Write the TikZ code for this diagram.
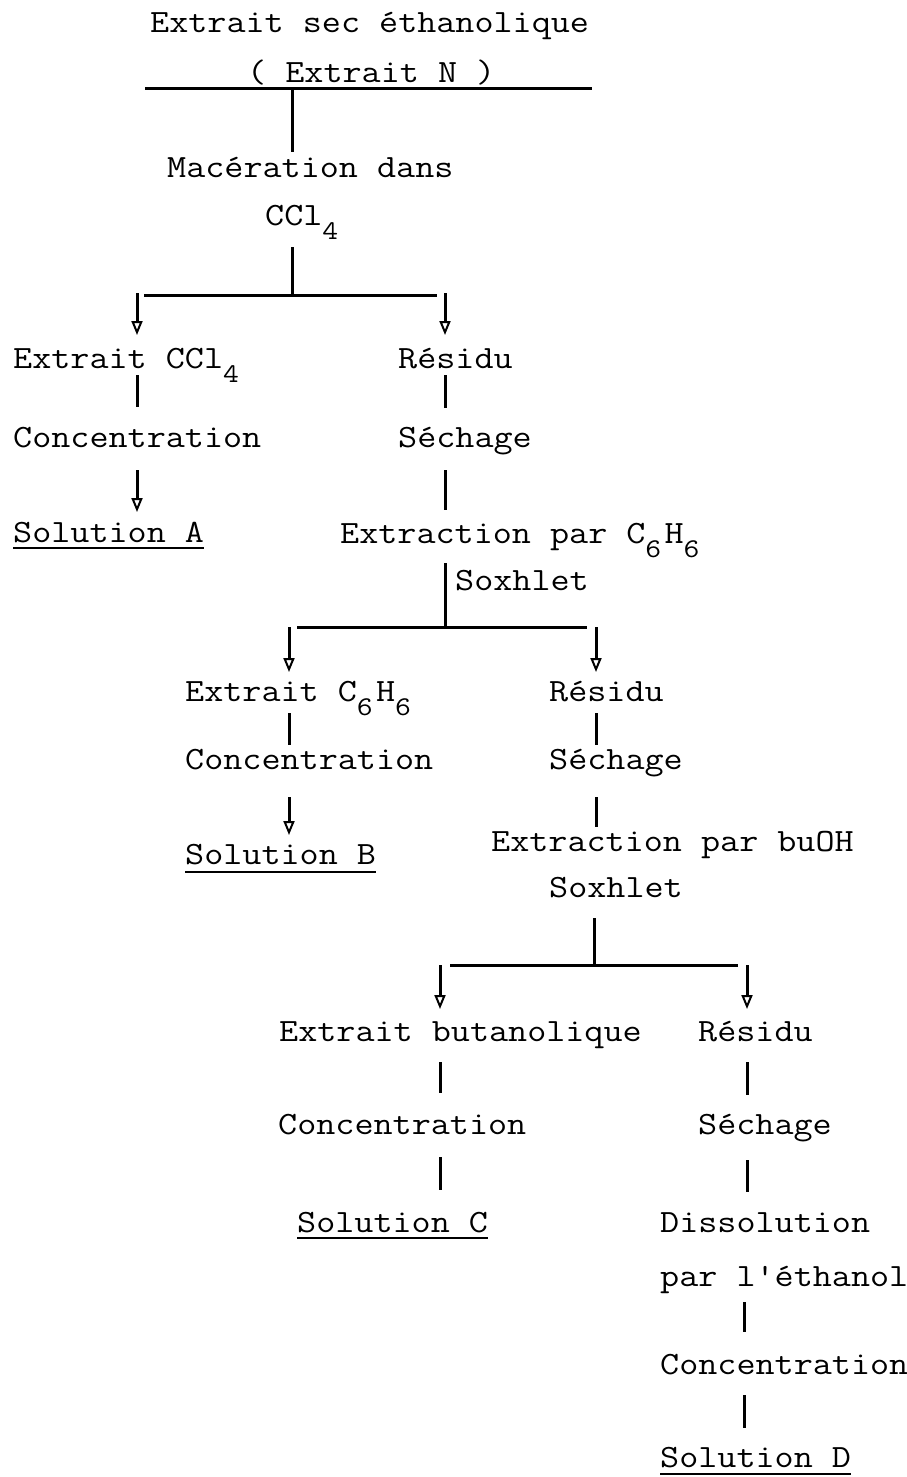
\documentclass[tikz,border=0pt]{standalone}
\usepackage{fontspec}
\setmonofont{Latin Modern Mono}[FakeStretch=1.14]
\usetikzlibrary{arrows.meta}
\newcommand\sbs[1]{\raisebox{-14pt}{\makebox[19.1pt][l]{\fontsize{27}{27}\selectfont #1}}}
\begin{document}
\begin{tikzpicture}[x=1pt,y=-1pt,
  txt/.style={anchor=base west, inner sep=0pt, font=\ttfamily\fontsize{32.5}{38}\selectfont},
  ln/.style={line width=3pt},
  ul/.style={line width=2.6pt},
  arr/.style={line width=3pt, -{Triangle[open, width=11pt, length=14pt, line width=2pt]}}]
\useasboundingbox (0,0) rectangle (907,1477);
% texts
\node[txt] (t1) at (150,33) {Extrait sec éthanolique};
\node[txt] (t2) at (247,83) {( Extrait N )};
\node[txt] (mac1) at (167,177) {Macération dans};
\node[txt] (mac2) at (265,225) {CCl\sbs{4}};
\node[txt] (eccl) at (13,368) {Extrait CCl\sbs{4}};
\node[txt] (res1) at (398,368) {Résidu};
\node[txt] (conc1) at (13,447) {Concentration};
\node[txt] (sech1) at (398,447) {Séchage};
\node[txt] (solA) at (13,542) {Solution A};
\node[txt] (ext1) at (340,543) {Extraction par C\sbs{6}H\sbs{6}};
\node[txt] (sox1) at (455,590) {Soxhlet};
\node[txt] (ec6) at (185,701) {Extrait C\sbs{6}H\sbs{6}};
\node[txt] (res2) at (549,701) {Résidu};
\node[txt] (conc2) at (185,769) {Concentration};
\node[txt] (sech2) at (549,769) {Séchage};
\node[txt] (solB) at (185,864) {Solution B};
\node[txt] (ext2) at (491,851) {Extraction par buOH};
\node[txt] (sox2) at (549,897) {Soxhlet};
\node[txt] (ebut) at (279,1041) {Extrait butanolique};
\node[txt] (res3) at (698,1041) {Résidu};
\node[txt] (conc3) at (278,1134) {Concentration};
\node[txt] (sech3) at (698,1134) {Séchage};
\node[txt] (solC) at (297,1232) {Solution C};
\node[txt] (diss) at (660,1232) {Dissolution};
\node[txt] (eth) at (660,1286) {par l'éthanol};
\node[txt] (conc4) at (660,1374) {Concentration};
\node[txt] (solD) at (660,1467) {Solution D};
% underlines
\coordinate (u0a) at (145,89); \coordinate (u0b) at (592,89);
\draw[ln] (u0a) -- (u0b);
\draw[ul] ([yshift=-6pt]solA.base west) -- ([yshift=-6pt]solA.base east);
\draw[ul] ([yshift=-8pt]solB.base west) -- ([yshift=-8pt]solB.base east);
\draw[ul] ([yshift=-6pt]solC.base west) -- ([yshift=-6pt]solC.base east);
\draw[ul] ([yshift=-7pt]solD.base west) -- ([yshift=-7pt]solD.base east);
% level 1
\coordinate (a1) at (292,89);  \coordinate (a2) at (292,152);
\coordinate (a3) at (292,247); \coordinate (j1) at (292,295);
\coordinate (b1l) at (144,295); \coordinate (b1r) at (437,295);
\coordinate (d1l) at (137,293); \coordinate (e1l) at (137,335);
\coordinate (d1r) at (445,293); \coordinate (e1r) at (445,335);
\draw[ln] (a1) -- (a2);
\draw[ln] (a3) -- (j1);
\draw[ln] (b1l) -- (b1r);
\draw[arr] (d1l) -- (e1l);
\draw[arr] (d1r) -- (e1r);
% level 2
\coordinate (f1) at (137,375); \coordinate (f2) at (137,407);
\coordinate (g1) at (445,375); \coordinate (g2) at (445,408);
\coordinate (f3) at (137,470); \coordinate (f4) at (137,512);
\coordinate (g3) at (445,470); \coordinate (g4) at (445,510);
\draw[ln] (f1) -- (f2);
\draw[ln] (g1) -- (g2);
\draw[arr] (f3) -- (f4);
\draw[ln] (g3) -- (g4);
\coordinate (h1) at (445,563); \coordinate (j2) at (445,627);
\coordinate (b2l) at (297,627); \coordinate (b2r) at (587,627);
\coordinate (d2l) at (289,627); \coordinate (e2l) at (289,672);
\coordinate (d2r) at (596,627); \coordinate (e2r) at (596,672);
\draw[ln] (h1) -- (j2);
\draw[ln] (b2l) -- (b2r);
\draw[arr] (d2l) -- (e2l);
\draw[arr] (d2r) -- (e2r);
% level 3
\coordinate (k1) at (289,713); \coordinate (k2) at (289,745);
\coordinate (m1) at (596,713); \coordinate (m2) at (596,745);
\coordinate (k3) at (289,797); \coordinate (k4) at (289,835);
\coordinate (m3) at (596,797); \coordinate (m4) at (596,827);
\draw[ln] (k1) -- (k2);
\draw[ln] (m1) -- (m2);
\draw[arr] (k3) -- (k4);
\draw[ln] (m3) -- (m4);
\coordinate (n1) at (594,918); \coordinate (j3) at (594,965);
\coordinate (b3l) at (450,965); \coordinate (b3r) at (738,965);
\coordinate (d3l) at (440,965); \coordinate (e3l) at (440,1009);
\coordinate (d3r) at (747,965); \coordinate (e3r) at (747,1009);
\draw[ln] (n1) -- (j3);
\draw[ln] (b3l) -- (b3r);
\draw[arr] (d3l) -- (e3l);
\draw[arr] (d3r) -- (e3r);
% level 4
\coordinate (p1) at (440,1062); \coordinate (p2) at (440,1093);
\coordinate (q1) at (747,1062); \coordinate (q2) at (747,1095);
\coordinate (p3) at (440,1157); \coordinate (p4) at (440,1190);
\coordinate (q3) at (747,1160); \coordinate (q4) at (747,1192);
\coordinate (r1) at (744,1302); \coordinate (r2) at (744,1332);
\coordinate (r3) at (744,1395); \coordinate (r4) at (744,1428);
\draw[ln] (p1) -- (p2);
\draw[ln] (q1) -- (q2);
\draw[ln] (p3) -- (p4);
\draw[ln] (q3) -- (q4);
\draw[ln] (r1) -- (r2);
\draw[ln] (r3) -- (r4);
\end{tikzpicture}
\end{document}
